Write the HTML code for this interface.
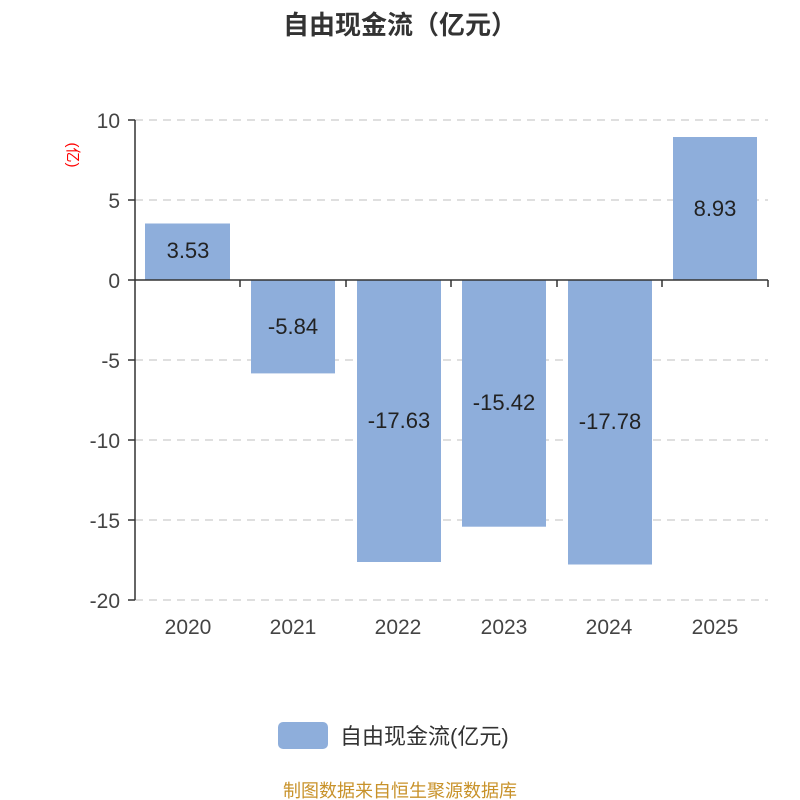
<!DOCTYPE html>
<html><head><meta charset="utf-8"><style>
html,body{margin:0;padding:0;background:#fff;}
svg{display:block;font-family:"Liberation Sans","Noto Sans CJK SC",sans-serif;}
</style></head><body>
<svg width="800" height="800" viewBox="0 0 800 800" xmlns="http://www.w3.org/2000/svg">
<text x="400" y="34" text-anchor="middle" font-size="26" font-weight="bold" fill="#333">自由现金流（亿元）</text>
<g stroke="#ccc" stroke-width="1.3" stroke-dasharray="8,6">
<line x1="135" y1="120" x2="768" y2="120"/>
<line x1="135" y1="200" x2="768" y2="200"/>
<line x1="135" y1="360" x2="768" y2="360"/>
<line x1="135" y1="440" x2="768" y2="440"/>
<line x1="135" y1="520" x2="768" y2="520"/>
<line x1="135" y1="600" x2="768" y2="600"/>
</g>
<g fill="#8eaedb">
<rect x="145" y="223.5" width="85" height="56.5"/>
<rect x="251" y="280" width="84" height="93.4"/>
<rect x="357" y="280" width="84" height="282"/>
<rect x="462" y="280" width="84" height="246.7"/>
<rect x="568" y="280" width="84" height="284.5"/>
<rect x="673" y="137" width="84" height="143"/>
</g>
<g stroke="#333" stroke-width="1.5">
<line x1="135" y1="120" x2="135" y2="600"/>
<line x1="128" y1="120" x2="135" y2="120"/>
<line x1="128" y1="200" x2="135" y2="200"/>
<line x1="128" y1="280" x2="135" y2="280"/>
<line x1="128" y1="360" x2="135" y2="360"/>
<line x1="128" y1="440" x2="135" y2="440"/>
<line x1="128" y1="520" x2="135" y2="520"/>
<line x1="128" y1="600" x2="135" y2="600"/>
<line x1="135" y1="280" x2="768" y2="280"/>
<line x1="240" y1="280" x2="240" y2="287"/>
<line x1="346" y1="280" x2="346" y2="287"/>
<line x1="451" y1="280" x2="451" y2="287"/>
<line x1="557" y1="280" x2="557" y2="287"/>
<line x1="662" y1="280" x2="662" y2="287"/>
<line x1="768" y1="280" x2="768" y2="287"/>
</g>
<g font-size="21" fill="#444" text-anchor="end">
<text x="120" y="128">10</text>
<text x="120" y="208">5</text>
<text x="120" y="288">0</text>
<text x="120" y="368">-5</text>
<text x="120" y="448">-10</text>
<text x="120" y="528">-15</text>
<text x="120" y="608">-20</text>
</g>
<text transform="translate(68,155) rotate(90)" text-anchor="middle" font-size="15" fill="#f00">(亿)</text>
<g font-size="21" fill="#444" text-anchor="middle">
<text x="188" y="634">2020</text>
<text x="293" y="634">2021</text>
<text x="398" y="634">2022</text>
<text x="504" y="634">2023</text>
<text x="609" y="634">2024</text>
<text x="715" y="634">2025</text>
</g>
<g font-size="22" fill="#222" text-anchor="middle">
<text x="188" y="258">3.53</text>
<text x="293" y="334">-5.84</text>
<text x="399" y="428">-17.63</text>
<text x="504" y="410">-15.42</text>
<text x="610" y="429">-17.78</text>
<text x="715" y="216">8.93</text>
</g>
<rect x="278" y="722" width="50" height="27" rx="5" fill="#8eaedb"/>
<text x="340" y="744" font-size="22" fill="#333">自由现金流(亿元)</text>
<text x="400" y="797" text-anchor="middle" font-size="18" fill="#c8922a">制图数据来自恒生聚源数据库</text>
</svg>
</body></html>
